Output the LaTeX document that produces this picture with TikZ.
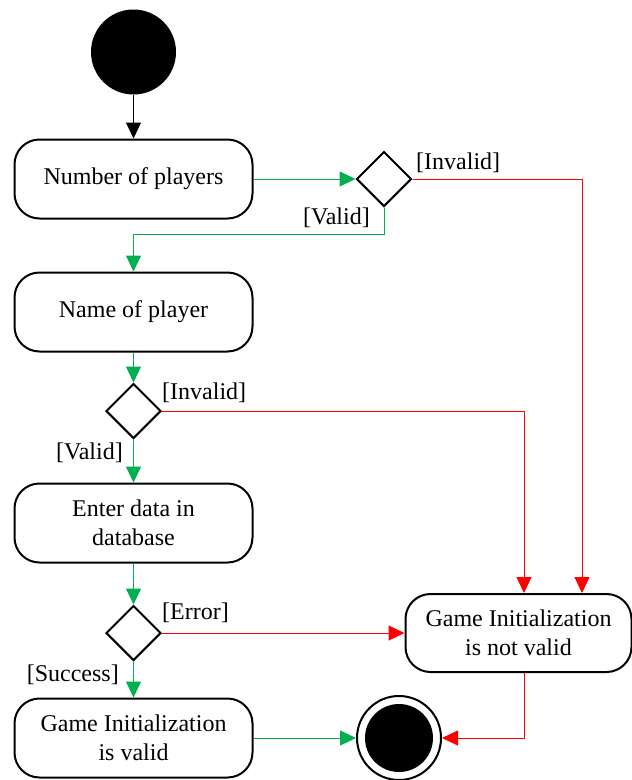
\documentclass[tikz,border=0pt]{standalone}
\usepackage{fontspec}
\setmainfont{Liberation Serif}
\usetikzlibrary{shapes.geometric,arrows.meta}
\definecolor{okgreen}{HTML}{00B050}
\definecolor{badred}{HTML}{FF0000}
\begin{document}
\begin{tikzpicture}[x=1pt,y=-1pt,
  font=\fontsize{24}{29}\selectfont,
  activity/.style={draw=black, line width=2pt, rounded corners=25pt,
    minimum width=238pt, minimum height=79pt, align=center, inner sep=0pt, fill=white},
  decision/.style={draw=black, line width=2pt, diamond, minimum width=55pt,
    minimum height=55pt, inner sep=0pt, fill=white},
  guard/.style={inner sep=0pt},
  flow/.style={line width=1pt, -{Triangle[length=16pt,width=15pt]}},
  okflow/.style={flow, draw=okgreen, -{Triangle[length=16pt,width=15pt,fill=okgreen]}},
  badflow/.style={flow, draw=badred, -{Triangle[length=16pt,width=15pt,fill=badred]}},
]
\useasboundingbox (0,0) rectangle (632,780);

% initial node
\node[circle, fill=black, minimum size=85pt, inner sep=0pt] (start) at (133.5,52) {};

% activities and decisions
\node[activity] (players) at (133.5,179) {Number of players};
\node[decision] (d1) at (384,179) {};
\node[activity] (name) at (133.5,312) {Name of player};
\node[decision] (d2) at (133.5,411) {};
\node[activity] (enter) at (133.5,523) {Enter data in\\database};
\node[decision] (d3) at (133.5,633) {};
\node[activity, minimum width=226pt, minimum height=78pt] (notvalid) at (518.5,633) {Game Initialization\\is not valid};
\node[activity] (valid) at (133.5,738) {Game Initialization\\is valid};

% final node
\node[circle, draw=black, line width=2pt, minimum size=84pt, inner sep=0pt] (end) at (399,738) {};
\node[circle, fill=black, minimum size=68pt, inner sep=0pt] (endcore) at (end.center) {};

% flows
\draw[flow] (start) -- (players);
\draw[okflow] (players.east) -- (d1.west);
\draw[badflow] (d1.east) -| ([xshift=63.5pt]notvalid.north);
\draw[okflow] (d1.south) -- ++(0,27) -| (name.north);
\draw[okflow] (name.south) -- (d2.north);
\draw[badflow] (d2.east) -| ([xshift=5.5pt]notvalid.north);
\draw[okflow] (d2.south) -- (enter.north);
\draw[okflow] (enter.south) -- (d3.north);
\draw[badflow] (d3.east) -- (notvalid.west);
\draw[okflow] (d3.south) -- (valid.north);
\draw[okflow] (valid.east) -- (end.west);
\draw[badflow] ([xshift=5.5pt]notvalid.south) |- (end.east);

% guards
\node[guard, anchor=west] (g1) at (416,163) {[Invalid]};
\node[guard, anchor=east] (g2) at (370,218) {[Valid]};
\node[guard, anchor=west] (g3) at (162,393) {[Invalid]};
\node[guard, anchor=east] (g4) at (123,453) {[Valid]};
\node[guard, anchor=west] (g5) at (162,613) {[Error]};
\node[guard, anchor=east] (g6) at (119,675) {[Success]};
\end{tikzpicture}
\end{document}
